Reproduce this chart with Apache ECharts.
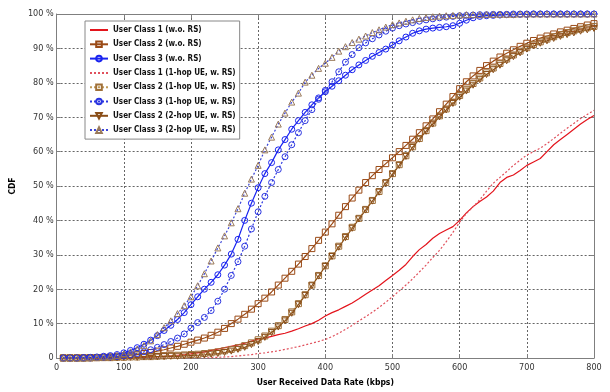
<!DOCTYPE html>
<html><head><meta charset="utf-8">
<script src="https://cdn.jsdelivr.net/npm/echarts@6/dist/echarts.min.js"></script>
<style>html,body{margin:0;padding:0;background:#fff}#c{width:610px;height:392px}</style>
</head><body><div id="c"></div>
<script>
// x positions (kbps)
const rates = [10,20,30,40,50,60,70,80,90,100,110,120,130,140,150,160,170,180,190,200,
210,220,230,240,250,260,270,280,290,300,310,320,330,340,350,360,370,380,390,400,
410,420,430,440,450,460,470,480,490,500,510,520,530,540,550,560,570,580,590,600,
610,620,630,640,650,660,670,680,690,700,710,720,730,740,750,760,770,780,790,800];

const seriesNames = [
 'User Class 1 (w.o. RS)','User Class 2 (w.o. RS)','User Class 3 (w.o. RS)',
 'User Class 1 (1-hop UE, w. RS)','User Class 2 (1-hop UE, w. RS)','User Class 3 (1-hop UE, w. RS)',
 'User Class 2 (2-hop UE, w. RS)','User Class 3 (2-hop UE, w. RS)'];

const c1_wo = [0,0,0,0,0,0,0,0,0,0,
0.1,0.1,0.2,0.3,0.4,0.5,0.6,0.8,1.0,1.2,
1.5,1.8,2.2,2.6,3.0,3.4,3.8,4.3,4.9,5.4,
5.8,6.3,6.8,7.2,7.8,8.5,9.3,10.0,11.0,12.2,
13.2,14.0,15.0,16.0,17.2,18.5,19.8,21.0,22.5,24.0,
25.5,27.2,29.5,31.5,33.0,34.8,36.2,37.2,38.2,40.0,
42.2,44.0,45.5,46.8,48.5,51.0,52.5,53.2,54.5,56.0,
57.0,58.0,60.0,62.0,63.5,65.0,66.5,68.0,69.3,70.5];

const c2_wo = [0,0,0,0,0.1,0.1,0.2,0.3,0.4,0.6,
0.8,1.0,1.3,1.6,2.0,2.4,2.9,3.4,4.0,4.6,
5.2,5.8,6.6,7.5,8.6,10.0,11.3,12.7,14.2,15.8,
17.4,19.2,21.2,23.2,25.2,27.3,29.5,31.8,34.2,36.6,
39.0,41.5,44.0,46.5,48.8,51.0,53.0,54.8,56.5,58.2,
60.0,61.8,63.6,65.5,67.5,69.5,71.6,73.8,76.0,78.3,
80.3,82.0,83.6,85.0,86.3,87.5,88.6,89.6,90.6,91.5,
92.3,93.0,93.6,94.2,94.8,95.3,95.8,96.3,96.8,97.2];

const c3_wo = [0,0,0,0.1,0.2,0.3,0.5,0.7,1.0,1.5,
2.2,3.0,4.0,5.2,6.5,8.0,9.5,11.2,13.2,15.5,
17.8,20.0,22.0,24.2,27.0,30.2,34.5,40.0,45.0,49.5,
53.6,56.8,60.5,63.5,66.5,69.0,71.4,73.6,75.6,77.4,
79.0,80.6,82.2,83.8,85.2,86.5,87.7,88.8,89.8,91.0,
92.2,93.3,94.4,95.1,95.6,95.9,96.1,96.3,96.6,97.3,
98.2,98.9,99.3,99.5,99.6,99.7,99.8,99.8,99.9,99.9,
100,100,100,100,100,100,100,100,100,100];

const c1_1h = [0,0,0,0,0,0,0,0,0,0,
0,0,0,0,0,0,0,0,0,0,
0,0,0.1,0.2,0.3,0.4,0.6,0.8,1.0,1.3,
1.5,1.8,2.1,2.5,2.9,3.3,3.8,4.3,4.8,5.4,
6.2,7.2,8.3,9.5,10.8,12.0,13.3,14.7,16.2,17.8,
19.5,21.2,23.0,25.0,27.0,29.2,31.3,33.8,36.5,39.5,
42.0,44.0,46.0,48.5,50.8,52.5,54.2,56.0,57.5,59.0,
60.0,61.0,62.3,63.8,65.3,66.8,68.2,69.6,70.8,72.0];

const c2_1h = [0,0,0,0,0,0.1,0.1,0.1,0.2,0.2,
0.3,0.3,0.4,0.4,0.5,0.6,0.7,0.8,0.9,1.0,
1.1,1.3,1.5,1.8,2.1,2.5,3.0,3.6,4.4,5.3,
6.4,7.8,9.4,11.2,13.4,15.8,18.4,21.2,24.0,26.8,
29.7,32.5,35.3,38.0,40.6,43.2,45.8,48.4,51.0,53.6,
56.2,58.8,61.4,63.8,66.1,68.3,70.4,72.4,74.4,76.3,
78.1,79.8,81.4,82.9,84.3,85.6,86.9,88.1,89.2,90.2,
91.1,91.9,92.7,93.4,94.0,94.6,95.1,95.6,96.0,96.4];

const c3_1h = [0,0,0,0,0,0.1,0.2,0.3,0.4,0.6,
0.9,1.3,1.8,2.4,3.1,3.9,4.8,5.8,7.0,8.7,
10.3,11.8,13.8,16.5,20.0,24.0,28.0,32.5,37.5,42.5,
47.0,51.0,54.8,58.5,62.0,65.5,69.0,72.2,75.2,77.8,
80.3,83.2,86.0,88.2,90.2,91.6,92.8,93.9,95.0,95.9,
96.6,97.1,97.5,97.9,98.3,98.6,98.9,99.1,99.3,99.5,
99.6,99.7,99.8,99.8,99.9,99.9,99.9,100,100,100,
100,100,100,100,100,100,100,100,100,100];

const c2_2h = [0,0,0,0,0,0,0.1,0.1,0.1,0.2,
0.2,0.2,0.3,0.3,0.4,0.4,0.5,0.5,0.6,0.7,
0.8,0.9,1.1,1.3,1.6,2.0,2.5,3.1,3.9,4.8,
6.0,7.4,9.0,10.8,13.0,15.5,18.2,21.0,23.8,26.6,
29.5,32.2,35.0,37.7,40.4,43.0,45.6,48.2,50.8,53.4,
56.0,58.6,61.2,63.6,65.9,68.0,70.1,72.1,74.0,75.8,
77.6,79.3,80.9,82.4,83.8,85.1,86.4,87.6,88.7,89.8,
90.7,91.5,92.2,92.9,93.5,94.0,94.5,95.0,95.4,95.8];

const c3_2h = [0,0,0,0,0.1,0.2,0.3,0.5,0.8,1.2,
1.8,2.6,3.6,5.0,6.8,8.8,10.8,12.9,15.2,17.8,
21.0,24.5,28.2,32.0,35.5,39.3,43.4,47.9,52.0,56.0,
60.5,64.2,68.0,71.2,74.4,77.0,80.2,82.2,84.2,85.7,
87.4,89.2,90.5,91.7,92.7,93.6,94.6,95.4,96.2,96.9,
97.4,97.9,98.3,98.7,99.0,99.2,99.4,99.5,99.6,99.7,
99.8,99.8,99.8,99.9,99.9,99.9,99.9,99.9,100,100,
100,100,100,100,100,100,100,100,100,100];

const xTitle = 'User Received Data Rate (kbps)';
const yTitle = 'CDF';

// --- font choice (narrow font if available) ---
function hasFont(name){
  const ctx = document.createElement('canvas').getContext('2d');
  const s = 'User Class 1 (w.o. RS) mmmWWWiii';
  ctx.font = 'bold 40px monospace'; const a = ctx.measureText(s).width;
  ctx.font = 'bold 40px "' + name + '", monospace'; const b = ctx.measureText(s).width;
  return Math.abs(a-b) > 0.5;
}
let narrow = 'Liberation Sans';
for (const f of ['Liberation Sans Narrow','Arial Narrow','DejaVu Sans Condensed']) { if (hasFont(f)) { narrow = f; break; } }
function fitSize(text, target, maxSize, minSize){
  const ctx = document.createElement('canvas').getContext('2d');
  ctx.font = 'bold 10px "' + narrow + '"';
  const w = ctx.measureText(text).width;
  return Math.max(minSize, Math.min(maxSize, 10*target/w));
}
const legSize = fitSize('User Class 1 (w.o. RS)', 86, 11, 8);
const titleSize = fitSize(xTitle, 112, 11, 8.5);
const fam = '"' + narrow + '", "Liberation Sans", Arial, sans-serif';

function mk(name, vals, lineColor, lineType, symbol, symColor, rotate, z){
  const noSym = symbol === 'none';
  return {
    name, type:'line', z,
    data: rates.map((x,i)=>[x, vals[i]]),
    symbol, showSymbol: !noSym, symbolSize: 6, symbolRotate: rotate || 0,
    lineStyle:{color: lineColor, width: 1.2, type: lineType},
    itemStyle:{color:'rgba(0,0,0,0)', borderColor: noSym ? 'rgba(0,0,0,0)' : (symColor || lineColor), borderWidth: noSym ? 0 : 1},
    emphasis:{disabled:true}, animation:false, silent:true
  };
}
const DOT = [2,2];
const series = [
  mk(seriesNames[0], c1_wo, '#e3141c', 'solid', 'none', null, 0, 2),
  mk(seriesNames[1], c2_wo, '#9a4a16', 'solid', 'rect', '#9a4a16', 0, 3),
  mk(seriesNames[2], c3_wo, '#1a24f0', 'solid', 'circle', '#1a24f0', 0, 4),
  mk(seriesNames[3], c1_1h, '#e0505c', DOT, 'none', null, 0, 2),
  mk(seriesNames[4], c2_1h, '#c09a5a', DOT, 'rect', '#a07038', 0, 3),
  mk(seriesNames[5], c3_1h, '#2a34e0', DOT, 'circle', '#2a34e0', 0, 4),
  mk(seriesNames[6], c2_2h, '#8a4e18', 'solid', 'triangle', '#8a4e18', 180, 3),
  mk(seriesNames[7], c3_2h, '#3a44d8', DOT, 'triangle', '#9a7a5a', 0, 5)
];

const axisGrey = '#7f7f7f';
const chart = echarts.init(document.getElementById('c'), null, {renderer:'canvas'});
chart.setOption({
  animation:false,
  backgroundColor:'#fff',
  grid:{left:52, right:16, top:14, bottom:27, containLabel:false},
  xAxis:[{
    type:'value', min:0, max:800, interval:100, position:'bottom',
    axisLine:{show:true, onZero:false, lineStyle:{color:axisGrey, width:1}},
    axisTick:{show:true, inside:true, length:4, lineStyle:{color:axisGrey}},
    axisLabel:{color:'#333', fontSize:9, margin:5, fontFamily:fam},
    splitLine:{show:true, lineStyle:{color:'#666', type:DOT, width:1}},
    name:xTitle, nameLocation:'middle', nameGap:20,
    nameTextStyle:{fontWeight:'bold', fontSize:titleSize, color:'#000', fontFamily:fam}
  },{
    type:'value', min:0, max:800, interval:100, position:'top',
    axisLine:{show:true, onZero:false, lineStyle:{color:axisGrey, width:1}},
    axisTick:{show:true, inside:true, length:4, lineStyle:{color:axisGrey}},
    axisLabel:{show:false}, splitLine:{show:false}
  }],
  yAxis:[{
    type:'value', min:0, max:100, interval:10, position:'left',
    axisLine:{show:true, onZero:false, lineStyle:{color:axisGrey, width:1}},
    axisTick:{show:true, inside:true, length:4, lineStyle:{color:axisGrey}},
    axisLabel:{color:'#333', fontSize:9, margin:3, fontFamily:fam,
      formatter:v => v === 0 ? '0' : v + ' %'},
    splitLine:{show:true, lineStyle:{color:'#666', type:DOT, width:1}},
    name:yTitle, nameLocation:'middle', nameGap:29, nameRotate:90,
    nameTextStyle:{fontWeight:'bold', fontSize:titleSize, color:'#000', fontFamily:fam}
  },{
    type:'value', min:0, max:100, interval:10, position:'right',
    axisLine:{show:true, onZero:false, lineStyle:{color:axisGrey, width:1}},
    axisTick:{show:true, inside:true, length:4, lineStyle:{color:axisGrey}},
    axisLabel:{show:false}, splitLine:{show:false}
  }],
  legend:{
    orient:'vertical', left:85, top:21,
    itemWidth:18, itemHeight:7, itemGap:2.3,
    padding:[3,4,3,4],
    backgroundColor:'#fff', borderColor:'#888', borderWidth:1,
    textStyle:{fontSize:legSize, fontWeight:'bold', color:'#111', fontFamily:fam, lineHeight:12},
    data: seriesNames, selectedMode:false
  },
  series
});
</script></body></html>
